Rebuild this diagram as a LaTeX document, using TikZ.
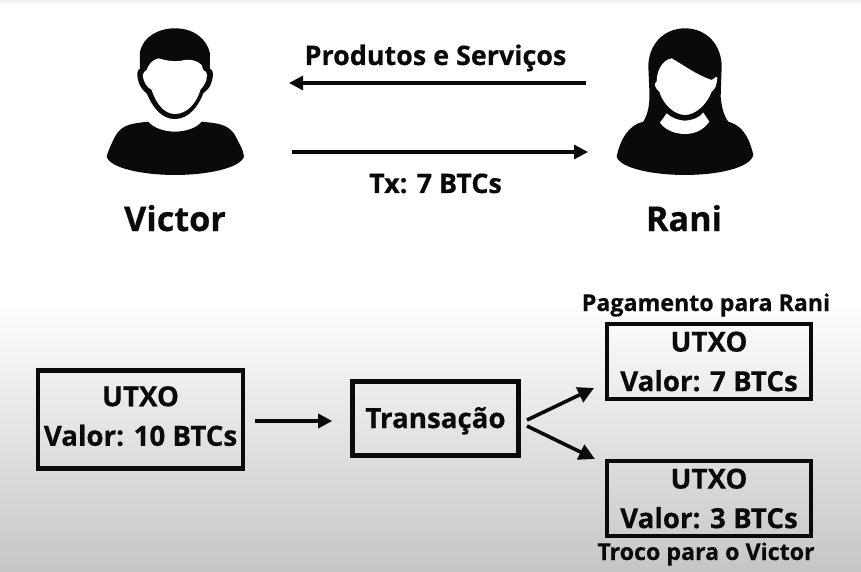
\documentclass[tikz,border=0pt]{standalone}
\usepackage{fontspec}
\setmainfont{Open Sans}[BoldFeatures={FakeBold=0.5}]
\usetikzlibrary{arrows.meta}
\definecolor{ink}{HTML}{0A0A0A}
\definecolor{fade}{HTML}{C6C6C6}
\newcommand{\fsz}[1]{\fontsize{#1}{#1}\selectfont\bfseries}
\newcommand{\lowered}[2]{\raisebox{-#1}[0pt][0pt]{#2}}
\tikzset{
  x=1pt,y=-1pt,
  boxnode/.style={draw=ink,line width=4.6pt,inner sep=0pt,align=center,text=ink,
    font=\fontsize{27.7}{39.5}\selectfont\bfseries},
  lab/.style={text=ink,inner sep=0pt,anchor=base},
  conn/.style={draw=ink,line width=3.2pt,-{Triangle[length=14pt,width=14pt]}},
  fan/.style={draw=ink,line width=3.6pt,-{Triangle[length=16pt,width=16pt]},shorten <=0pt},
  inkfill/.style={fill=ink,draw=none},
  white fill/.style={fill=white,draw=none}
}
\begin{document}
\begin{tikzpicture}
\useasboundingbox (0,0) rectangle (861,572);
\fill[white] (0,0) rectangle (861,572);
\shade[top color=white,bottom color=fade,shading angle=0] (0,300) rectangle (861,572);
\shade[top color=black!5,bottom color=white] (0,0) rectangle (861,6);
% Victor icon
\begin{scope}[shift={(90,10)},x=0.3333pt,y=-0.3333pt]
\path[inkfill] (255,327) .. controls (215,327) and (190,295) .. (170,250)
 .. controls (150,235) and (142,215) .. (142,190)
 .. controls (142,182) and (146,178) .. (150,176)
 -- (150,125) .. controls (160,80) and (205,55) .. (255,55)
 .. controls (310,55) and (350,85) .. (360,130)
 -- (360,176) .. controls (372,180) and (370,200) .. (365,215)
 .. controls (360,235) and (350,240) .. (340,250)
 .. controls (325,290) and (295,327) .. (255,327) -- cycle;
\path[white fill] (255,312) .. controls (225,312) and (200,285) .. (185,240)
 .. controls (170,232) and (160,215) .. (158,195)
 .. controls (160,185) and (165,185) .. (170,180)
 .. controls (175,165) and (185,150) .. (205,145)
 .. controls (225,150) and (250,158) .. (285,150)
 .. controls (300,148) and (320,150) .. (335,165)
 .. controls (338,175) and (340,185) .. (348,185)
 .. controls (355,195) and (350,220) .. (332,238)
 .. controls (320,280) and (290,312) .. (255,312) -- cycle;
\path[inkfill] (175,335) .. controls (190,355) and (225,365) .. (255,365)
 .. controls (285,365) and (320,355) .. (335,335)
 .. controls (380,340) and (420,340) .. (440,385)
 .. controls (450,405) and (460,420) .. (462,440)
 .. controls (450,475) and (350,495) .. (255,495)
 .. controls (160,495) and (60,475) .. (50,440)
 .. controls (55,420) and (65,400) .. (75,380)
 .. controls (95,340) and (135,340) .. (175,335) -- cycle;
\end{scope}
% Rani icon
\begin{scope}[shift={(600,10)},x=0.3333pt,y=-0.3333pt]
\path[inkfill] (255,55) .. controls (320,55) and (365,105) .. (365,170)
 -- (362,260) .. controls (365,290) and (370,315) .. (385,335)
 .. controls (420,345) and (445,370) .. (460,435)
 .. controls (450,475) and (350,495) .. (255,495)
 .. controls (160,495) and (60,475) .. (50,440)
 .. controls (60,390) and (85,345) .. (130,335)
 .. controls (145,310) and (150,280) .. (148,240)
 -- (145,170) .. controls (145,105) and (190,55) .. (255,55) -- cycle;
\path[white fill] (215,145) .. controls (250,165) and (290,195) .. (335,210)
 .. controls (345,205) and (350,195) .. (352,205)
 .. controls (350,225) and (345,240) .. (335,245)
 .. controls (320,285) and (285,315) .. (255,315)
 .. controls (225,315) and (190,285) .. (178,245)
 .. controls (165,235) and (160,220) .. (170,215)
 .. controls (170,185) and (185,150) .. (215,145) -- cycle;
\path[white fill] (200,310) .. controls (215,325) and (240,332) .. (255,332)
 .. controls (275,332) and (300,322) .. (310,308)
 -- (328,335) .. controls (310,360) and (285,372) .. (255,372)
 .. controls (225,372) and (195,360) .. (180,338) -- cycle;
\end{scope}
% upper labels
\node[lab,font=\fsz{34.2}] (victor) at (175,231) {Victor};
\node[lab,font=\fsz{34.2}] (rani) at (684,231) {Rani};
\node[lab,font=\fsz{26.9}] (prod) at (435.5,65) {Produtos e Serviços};
\node[lab,font=\fsz{26.9}] (tx) at (435.5,193) {Tx: 7 BTCs};
\coordinate (ranisend) at (586,83);
\coordinate (victorget) at (289,83);
\coordinate (victorsend) at (292,152);
\coordinate (raniget) at (588,152);
\draw[conn] (ranisend) -- (victorget);
\draw[conn] (victorsend) -- (raniget);
% boxes
\node[boxnode,minimum width=205pt,minimum height=98pt] (input) at (140.5,419.5) {\lowered{6.5pt}{UTXO}\\\lowered{6.5pt}{Valor: 10 BTCs}};
\node[boxnode,minimum width=166pt,minimum height=74pt] (tran) at (435.5,418.5) {\lowered{9.5pt}{Transação}};
\node[boxnode,minimum width=204pt,minimum height=75pt] (out1) at (709,361.5) {UTXO\\Valor: 7 BTCs};
\node[boxnode,minimum width=204pt,minimum height=75pt] (out2) at (709,498.5) {UTXO\\Valor: 3 BTCs};
\node[lab,font=\fsz{23.2}] (pay) at (706,311) {Pagamento para Rani};
\node[lab,font=\fsz{23.2}] (change) at (706,560) {Troco para o Victor};
% connectors
\draw[conn,line width=3.6pt] ([xshift=10pt,yshift=-1.5pt]input.east) -- ([xshift=-18pt,yshift=-2.5pt]tran.west);
\coordinate (forkup) at (527,420);
\coordinate (forkdown) at (527,426);
\coordinate (upend) at (594,388);
\coordinate (downend) at (595,459);
\draw[fan] (forkup) -- (upend);
\draw[fan] (forkdown) -- (downend);
\end{tikzpicture}
\end{document}
